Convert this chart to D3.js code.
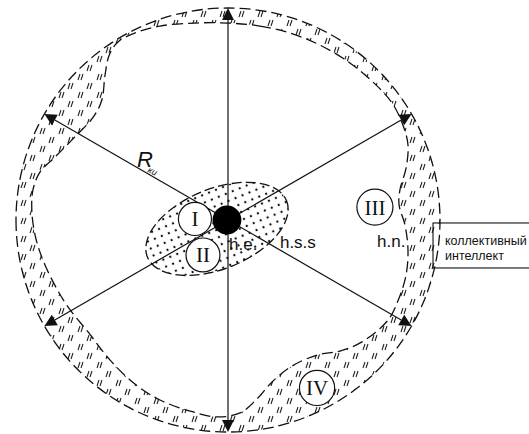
<!DOCTYPE html>
<html><head><meta charset="utf-8">
<script src="https://cdn.jsdelivr.net/npm/d3@7"></script>
<style>body{margin:0;background:#fff}svg{display:block}</style>
</head><body><svg id="c" width="529" height="434"></svg>
<script>
// Diagram coordinates: centre = (0,0), outer boundary radius = 100 units
const outerRadius = 100;
const spokeAngles = [90, 30, -30, -90, -150, 150];
const innerBoundary = [
  [0,92.9],[15.1,91.5],[29.2,88.2],[43.4,82.5],[57.5,74.1],[69.3,64.2],[77.4,55.2],
  [82.5,44.8],[84.9,35.4],[84.0,24.5],[81.1,14.2],[80.7,7.1],[83.5,-2.4],[84.9,-14.2],
  [84.0,-25.9],[80.7,-36.8],[75.5,-47.2],[63.2,-57.5],[52.8,-61.8],[42.0,-63.7],
  [30.2,-68.9],[20.8,-76.4],[13.2,-84.9],[5.7,-91.0],[-5.2,-92.9],[-17.9,-90.1],
  [-32.1,-84.9],[-43.9,-77.4],[-55.7,-66.0],[-66.0,-52.8],[-75.5,-41.0],[-82.5,-29.2],
  [-87.7,-17.9],[-91.0,-7.1],[-92.5,3.8],[-92.0,14.2],[-88.7,22.6],[-81.6,29.7],
  [-72.2,39.2],[-63.5,48.6],[-59.5,56.6],[-58.0,68.4],[-56.0,77.8],[-51.9,84.0],
  [-43.9,88.2],[-32.1,91.5],[-15.6,92.9]
];
const coreEllipse = {cx:-5.2, cy:-4.2, rx:35.4, ry:18.9, angle:-22};
const kernel = {cx:-0.5, cy:0, r:6.8};
const zoneNames = ["I", "II", "III", "IV"];
const zoneCenters = [[-15.6,0.5], [-11.8,-16.5], [69.3,6.1], [42.0,-79.2]];
const zoneRadii = [7.8, 8.0, 8.5, 8.3];
const levelLabels = ["h.e.", "h.s.s", "h.n."];
const levelAnchors = [[0.5,-14.2], [24.5,-13.2], [70.3,-12.7]];
const radiusLabel = ["R", "ки"];
const radiusAnchor = [-42.9, 25.0];
const boxLines = ["коллективный", "интеллект"];
const boxAnchor = [96.7, -1.4];

const svg = d3.select("#c");
const x = d3.scaleLinear().domain([-100, 100]).range([16, 440]);
const y = d3.scaleLinear().domain([100, -100]).range([8, 432]);
const k = (x(100) - x(0)) / 100;

const defs = svg.append("defs");
const hatch = defs.append("pattern").attr("id", "hatch").attr("patternUnits", "userSpaceOnUse")
  .attr("width", 19).attr("height", 18);
[[2,8,4,2],[5,8,7,2],[11,17,13,11],[14,17,16,11]].forEach(l =>
  hatch.append("line").attr("x1", l[0]).attr("y1", l[1]).attr("x2", l[2]).attr("y2", l[3])
    .attr("stroke", "#222").attr("stroke-width", 1.1));
const dots = defs.append("pattern").attr("id", "dots").attr("patternUnits", "userSpaceOnUse")
  .attr("width", 7.5).attr("height", 7.5).attr("x", 2).attr("y", 1);
dots.append("circle").attr("cx", 3.75).attr("cy", 3.75).attr("r", 1.15).attr("fill", "#111");

const cx0 = x(0), cy0 = y(0), R = outerRadius * k;
const line = d3.line().x(d => x(d[0])).y(d => y(d[1])).curve(d3.curveCatmullRomClosed.alpha(0.5));
const circlePath = `M${cx0 - R},${cy0}A${R},${R} 0 1 0 ${cx0 + R},${cy0}A${R},${R} 0 1 0 ${cx0 - R},${cy0}Z`;

// hatched band
svg.append("path").attr("d", circlePath + line(innerBoundary))
  .attr("fill", "url(#hatch)").attr("fill-rule", "evenodd");
svg.append("path").attr("d", circlePath).attr("fill", "none").attr("stroke", "#111")
  .attr("stroke-width", 1.3).attr("stroke-dasharray", "11,5");
svg.append("path").attr("d", line(innerBoundary)).attr("fill", "none").attr("stroke", "#111")
  .attr("stroke-width", 1.3).attr("stroke-dasharray", "11,5");

// core ellipse
svg.append("ellipse").attr("cx", x(coreEllipse.cx)).attr("cy", y(coreEllipse.cy))
  .attr("rx", coreEllipse.rx * k).attr("ry", coreEllipse.ry * k)
  .attr("transform", `rotate(${coreEllipse.angle},${x(coreEllipse.cx)},${y(coreEllipse.cy)})`)
  .attr("fill", "url(#dots)").attr("stroke", "#111").attr("stroke-width", 1.3).attr("stroke-dasharray", "10,4");

// spokes with arrowheads
const headLen = 12, headHalf = 6;
spokeAngles.forEach(a => {
  const t = a * Math.PI / 180;
  const tipX = x(outerRadius * Math.cos(t)), tipY = y(outerRadius * Math.sin(t));
  const ux = Math.cos(t), uy = -Math.sin(t);
  const bx = tipX - ux * headLen, by = tipY - uy * headLen;
  svg.append("line").attr("x1", cx0).attr("y1", cy0).attr("x2", bx).attr("y2", by)
    .attr("stroke", "#111").attr("stroke-width", 1.2);
  svg.append("path").attr("d", `M${tipX},${tipY}L${bx - uy * headHalf},${by + ux * headHalf}L${bx + uy * headHalf},${by - ux * headHalf}Z`)
    .attr("fill", "#111");
});

// zones
zoneNames.forEach((n, i) => {
  const px = x(zoneCenters[i][0]), py = y(zoneCenters[i][1]);
  svg.append("circle").attr("cx", px).attr("cy", py).attr("r", zoneRadii[i] * k)
    .attr("fill", "#fff").attr("stroke", "#111").attr("stroke-width", 1.2);
  svg.append("text").attr("x", px).attr("y", py + 7.5).attr("text-anchor", "middle")
    .attr("font-family", "'Liberation Serif','Times New Roman',serif").attr("font-size", 21)
    .attr("fill", "#111").text(n);
});

// kernel
svg.append("circle").attr("cx", x(kernel.cx)).attr("cy", y(kernel.cy)).attr("r", kernel.r * k).attr("fill", "#000");

// level labels
levelLabels.forEach((t, i) => {
  svg.append("text").attr("x", x(levelAnchors[i][0])).attr("y", y(levelAnchors[i][1]))
    .attr("font-family", "Arial, 'Liberation Sans', sans-serif").attr("font-size", 17)
    .attr("fill", "#111").text(t);
});

// radius label
svg.append("text").attr("x", x(radiusAnchor[0])).attr("y", y(radiusAnchor[1]))
  .attr("font-family", "Arial, 'Liberation Sans', sans-serif").attr("font-size", 22)
  .attr("font-style", "italic").attr("fill", "#111").text(radiusLabel[0]);
svg.append("text").attr("transform", `translate(${x(radiusAnchor[0]) + 10},${y(radiusAnchor[1]) + 5}) rotate(25)`)
  .attr("font-family", "Arial, 'Liberation Sans', sans-serif").attr("font-size", 9)
  .attr("font-style", "italic").attr("fill", "#111").text(radiusLabel[1]);

// box
const bx0 = x(boxAnchor[0]), by0 = y(boxAnchor[1]);
svg.append("rect").attr("x", bx0).attr("y", by0).attr("width", 130).attr("height", 45)
  .attr("fill", "none").attr("stroke", "#111").attr("stroke-width", 1.1);
boxLines.forEach((t, i) => {
  svg.append("text").attr("x", bx0 + 12).attr("y", by0 + 22 + i * 15)
    .attr("font-family", "Arial, 'Liberation Sans', sans-serif").attr("font-size", 12.5)
    .attr("fill", "#111").text(t);
});
</script></body></html>
